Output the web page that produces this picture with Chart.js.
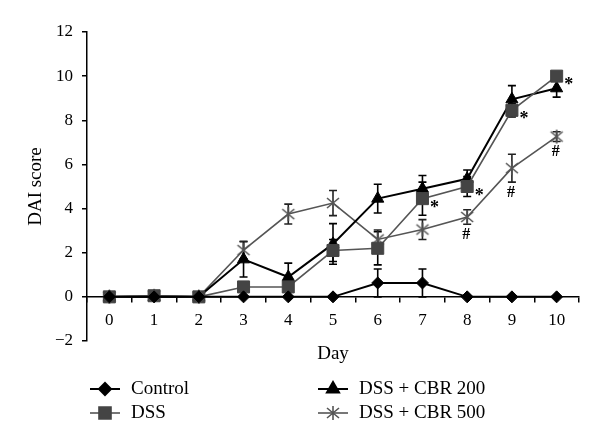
<!DOCTYPE html>
<html>
<head>
<meta charset="utf-8">
<script src="https://cdn.jsdelivr.net/npm/chart.js@4"></script>
<style>
  html, body { margin: 0; padding: 0; background: #fff; }
  #wrap { width: 600px; height: 447px; }
</style>
</head>
<body>
<div id="wrap"><canvas id="dai"></canvas></div>
<script>
// data
const days = ['0', '1', '2', '3', '4', '5', '6', '7', '8', '9', '10'];
const control    = [0, 0, 0, 0, 0, 0, 0.63, 0.63, 0, 0, 0];
const controlErr = [0, 0, 0, 0, 0, 0, 0.63, 0.63, 0, 0, 0];
const dss        = [0, 0.05, 0, 0.45, 0.45, 2.1, 2.2, 4.45, 5.0, 8.45, 10.0];
const dssErr     = [0, 0, 0, 0, 0, 0.5, 0.75, 0.75, 0.45, 0.3, 0];
const cbr200     = [0, 0, 0, 1.7, 0.9, 2.4, 4.45, 4.9, 5.35, 8.95, 9.45];
const cbr200Err  = [0, 0, 0, 0.8, 0.63, 0.92, 0.65, 0.6, 0.4, 0.62, 0.4];
const cbr500     = [0, 0.05, 0, 2.12, 3.75, 4.25, 2.6, 3.05, 3.62, 5.83, 7.26];
const cbr500Err  = [0, 0, 0, 0.4, 0.45, 0.57, 0.43, 0.45, 0.33, 0.63, 0.22];
const yTicks = [-2, 0, 2, 4, 6, 8, 10, 12];
// significance marks
const dssStarDays = [7, 8, 9, 10];
const cbr500HashDays = [8, 9, 10];

const serif = '"Liberation Serif", "DejaVu Serif", serif';
const GREY = '#555555';

// asterisk marker (x + vertical bar)
function makeAsterisk(color) {
  const c = document.createElement('canvas');
  c.width = 16; c.height = 16;
  const g = c.getContext('2d');
  g.strokeStyle = color;
  g.lineWidth = 1.6;
  g.beginPath();
  g.moveTo(8, 1); g.lineTo(8, 15);
  g.moveTo(2, 3); g.lineTo(14, 13);
  g.moveTo(14, 3); g.lineTo(2, 13);
  g.stroke();
  return c;
}
const asterisk = makeAsterisk(GREY);

/* error bars, drawn under the markers */
const errorBars = {
  id: 'errorBars',
  beforeDatasetsDraw(chart) {
    const ctx = chart.ctx;
    const y = chart.scales.y;
    chart.data.datasets.forEach((ds, i) => {
      const meta = chart.getDatasetMeta(i);
      ctx.save();
      ctx.strokeStyle = ds.errColor;
      ctx.lineWidth = 1.6;
      ds.data.forEach((v, j) => {
        const e = ds.errors[j];
        if (!e) return;
        const x = meta.data[j].x;
        const top = y.getPixelForValue(v + e);
        const bot = y.getPixelForValue(v - e);
        ctx.beginPath();
        ctx.moveTo(x, top); ctx.lineTo(x, bot);
        ctx.moveTo(x - 4, top); ctx.lineTo(x + 4, top);
        ctx.moveTo(x - 4, bot); ctx.lineTo(x + 4, bot);
        ctx.stroke();
      });
      ctx.restore();
    });
  }
};

/* * and # marks */
const sigMarks = {
  id: 'sigMarks',
  afterDatasetsDraw(chart) {
    const ctx = chart.ctx;
    const y = chart.scales.y;
    const mDss = chart.getDatasetMeta(1);
    const m500 = chart.getDatasetMeta(3);
    ctx.save();
    ctx.fillStyle = '#000';
    ctx.textAlign = 'center';
    ctx.textBaseline = 'alphabetic';
    ctx.font = 'bold 18px ' + serif;
    dssStarDays.forEach(d => {
      const p = mDss.data[d];
      ctx.fillText('*', p.x + 12, p.y + 14);
    });
    ctx.font = 'bold 16px ' + serif;
    cbr500HashDays.forEach(d => {
      const p = m500.data[d];
      const low = y.getPixelForValue(cbr500[d] - cbr500Err[d]);
      ctx.fillText('#', p.x - 1, low + 15);
    });
    ctx.restore();
  }
};

/* legend in two columns under the axis */
const legendItems = [
  { idx: 0, x: 90, y: 389 },
  { idx: 1, x: 90, y: 413 },
  { idx: 2, x: 318, y: 389 },
  { idx: 3, x: 318, y: 413 }
];
const bottomLegend = {
  id: 'bottomLegend',
  afterDraw(chart) {
    const ctx = chart.ctx;
    ctx.save();
    legendItems.forEach(it => {
      const ds = chart.data.datasets[it.idx];
      ctx.strokeStyle = ds.borderColor;
      ctx.lineWidth = ds.borderWidth;
      ctx.beginPath();
      ctx.moveTo(it.x, it.y); ctx.lineTo(it.x + 30, it.y);
      ctx.stroke();
      ctx.fillStyle = ds.pointBackgroundColor;
      ctx.strokeStyle = ds.pointBorderColor;
      Chart.helpers.drawPoint(ctx, {
        pointStyle: ds.pointStyle,
        radius: ds.pointRadius,
        rotation: 0,
        borderWidth: ds.pointBorderWidth
      }, it.x + 15, it.y);
      ctx.fillStyle = '#000';
      ctx.font = '19px ' + serif;
      ctx.textBaseline = 'middle';
      ctx.textAlign = 'left';
      ctx.fillText(ds.label, it.x + 41, it.y);
    });
    ctx.restore();
  }
};

new Chart(document.getElementById('dai'), {
  type: 'line',
  data: {
    labels: days,
    datasets: [
      {
        label: 'Control', data: control, errors: controlErr, errColor: '#000',
        borderColor: '#000', borderWidth: 2,
        pointStyle: 'rectRot', pointRadius: 6, pointBorderWidth: 1,
        pointBackgroundColor: '#000', pointBorderColor: '#000'
      },
      {
        label: 'DSS', data: dss, errors: dssErr, errColor: '#000',
        borderColor: GREY, borderWidth: 1.6,
        pointStyle: 'rect', pointRadius: 8.5, pointBorderWidth: 1,
        pointBackgroundColor: '#444', pointBorderColor: '#444'
      },
      {
        label: 'DSS + CBR 200', data: cbr200, errors: cbr200Err, errColor: '#000',
        borderColor: '#000', borderWidth: 2,
        pointStyle: 'triangle', pointRadius: 7, pointBorderWidth: 1,
        pointBackgroundColor: '#000', pointBorderColor: '#000'
      },
      {
        label: 'DSS + CBR 500', data: cbr500, errors: cbr500Err, errColor: '#222',
        borderColor: GREY, borderWidth: 1.6,
        pointStyle: asterisk, pointRadius: 7, pointBorderWidth: 1,
        pointBackgroundColor: GREY, pointBorderColor: GREY
      }
    ]
  },
  options: {
    responsive: true,
    maintainAspectRatio: false,
    animation: false,
    clip: false,
    layout: { padding: { top: 32, right: 21, bottom: 106, left: 0 } },
    plugins: {
      legend: { display: false },
      tooltip: { enabled: false }
    },
    elements: { line: { tension: 0 } },
    scales: {
      x: {
        type: 'category',
        position: { y: 0 },
        offset: true,
        grid: { display: true, offset: true, drawOnChartArea: false, tickLength: 5, color: '#000', lineWidth: 1.5 },
        border: { display: true, color: '#000', width: 1.5 },
        ticks: { color: '#000', padding: 8, font: { family: serif, size: 17 }, maxRotation: 0 },
        title: { display: true, text: 'Day', color: '#000', font: { family: serif, size: 19 }, padding: { top: 4, bottom: 0 } }
      },
      y: {
        min: -2,
        max: 12,
        afterFit(scale) { scale.width = 87; },
        afterBuildTicks(scale) { scale.ticks = yTicks.map(v => ({ value: v })); },
        grid: { display: true, drawOnChartArea: false, tickLength: 5, color: '#000', lineWidth: 1.5 },
        border: { display: true, color: '#000', width: 1.5 },
        ticks: {
          color: '#000', padding: 9, font: { family: serif, size: 17 },
          callback: v => v < 0 ? '\u2212' + Math.abs(v) : String(v)
        },
        title: { display: true, text: 'DAI score', color: '#000', font: { family: serif, size: 19 }, padding: { top: 25, bottom: 0 } }
      }
    }
  },
  plugins: [errorBars, sigMarks, bottomLegend]
});
</script>
</body>
</html>
